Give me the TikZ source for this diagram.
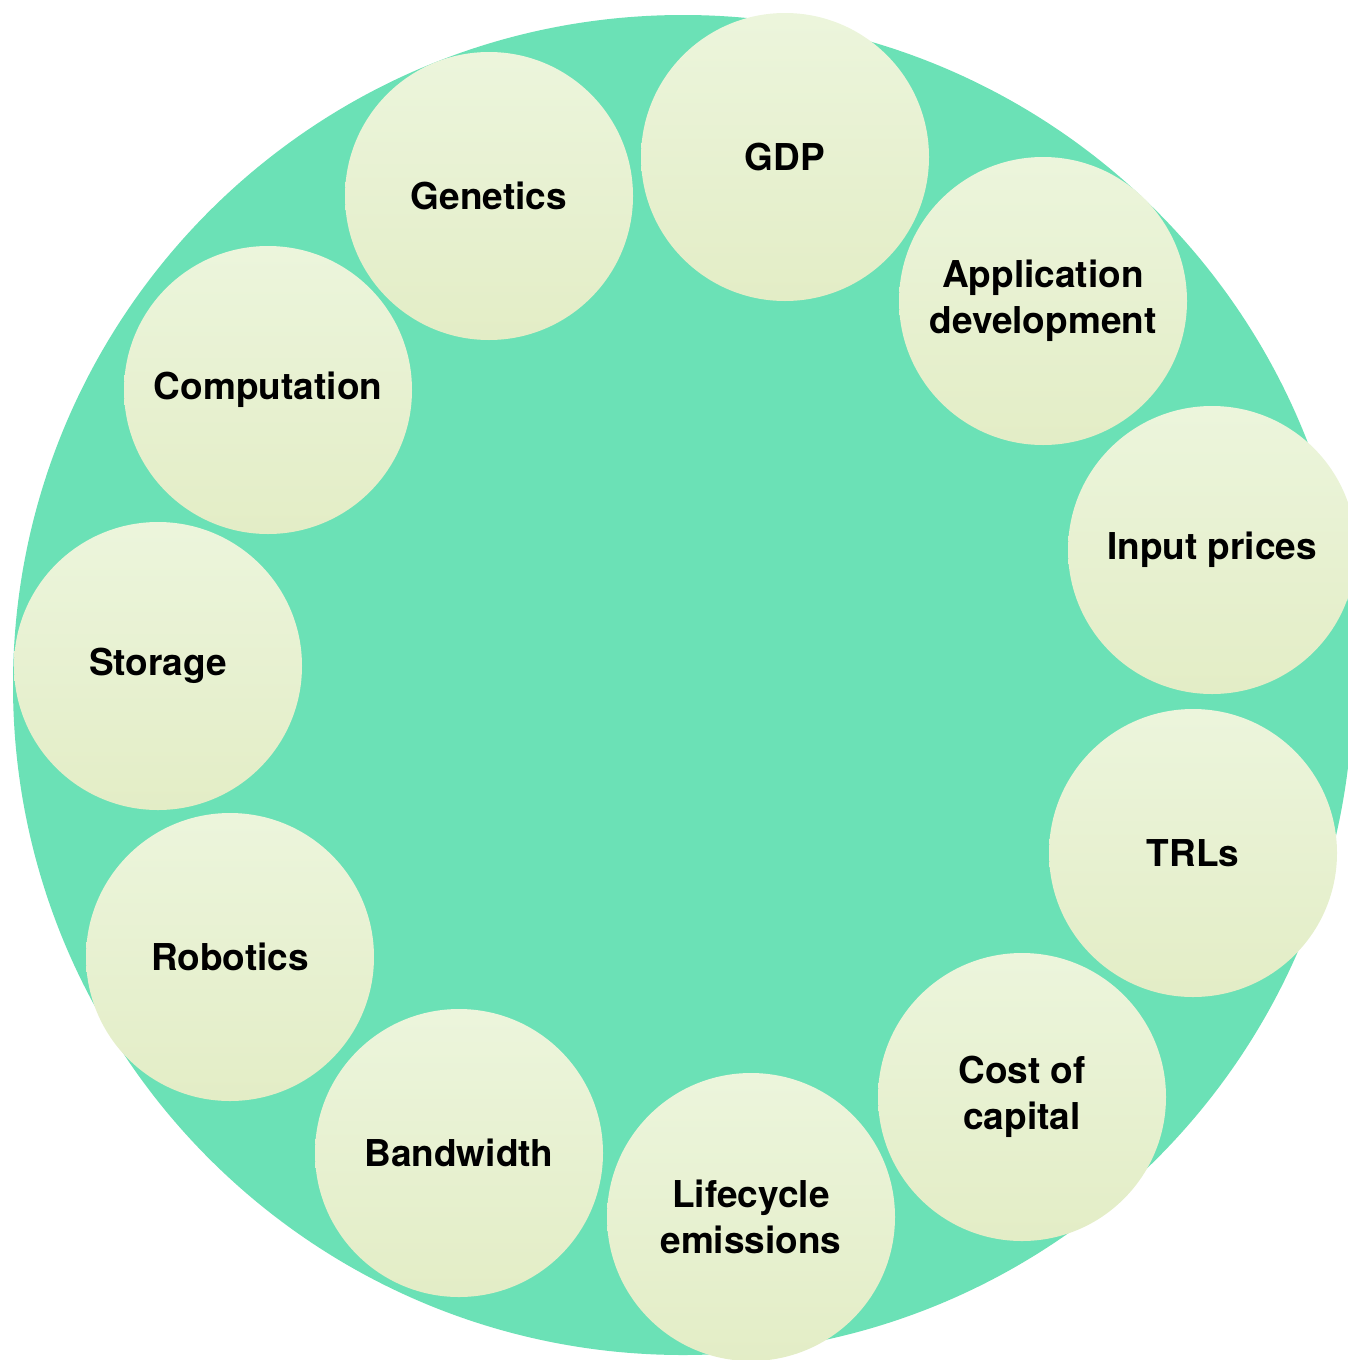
\documentclass[tikz,border=0pt]{standalone}
\usepackage{fontspec}
\setmainfont{TeX Gyre Heros}
\usetikzlibrary{positioning}
\definecolor{ringgreen}{HTML}{6BE1B6}
\definecolor{bubbletop}{HTML}{ECF5DC}
\definecolor{bubblebot}{HTML}{E3EDC6}
\tikzset{
    ring/.style={circle, fill=ringgreen, minimum size=1340pt, inner sep=0pt},
    bubble/.style={circle, top color=bubbletop, bottom color=bubblebot,
                   minimum size=288pt, inner sep=0pt, align=center,
                   font=\bfseries\fontsize{37}{46}\selectfont},
}

\begin{document}
\begin{tikzpicture}[x=1pt, y=-1pt]
    \useasboundingbox (0,0) rectangle (1348,1360);

    % ── BACKGROUND ──
    \node[ring] (bg) at (683,685) {};

    % ── FACTORS ──
    \node[bubble] (gdp)  at (785,157)  {GDP};
    \node[bubble] (app)  at (1043,301) {Application\\development};
    \node[bubble] (inp)  at (1212,550) {Input prices};
    \node[bubble] (trl)  at (1193,853) {TRLs};
    \node[bubble] (coc)  at (1022,1097) {Cost of\\capital};
    \node[bubble] (life) at (751,1217) {Lifecycle\\emissions};
    \node[bubble] (band) at (459,1153) {Bandwidth};
    \node[bubble] (rob)  at (230,957)  {Robotics};
    \node[bubble] (stor) at (158,666)  {Storage};
    \node[bubble] (comp) at (268,390)  {Computation};
    \node[bubble] (gen)  at (489,196)  {Genetics};

\end{tikzpicture}
\end{document}
